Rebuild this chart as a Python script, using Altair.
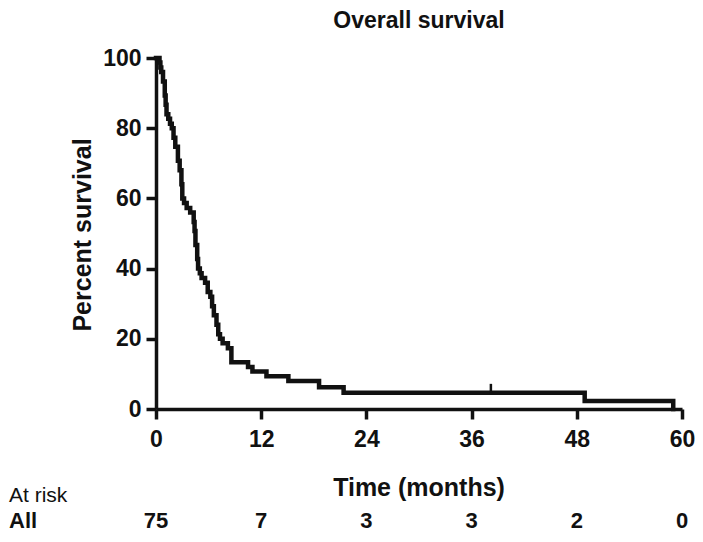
import altair as alt
import pandas as pd

# Kaplan-Meier step points (months, percent)
times = [0, 0.4, 0.5, 0.6, 0.8, 1.0, 1.1, 1.2, 1.4, 1.6, 1.8, 2.0, 2.2, 2.5, 2.7,
         2.9, 3.0, 3.2, 3.5, 3.9, 4.3, 4.4, 4.5, 4.7, 4.8, 5.0, 5.2, 5.6, 5.9,
         6.2, 6.4, 6.6, 6.9, 7.1, 7.3, 7.6, 8.2, 8.6, 10.5, 11.0, 12.6, 15.1,
         18.6, 21.4, 48.9, 59.0]
survival = [100, 98.7, 97.3, 96.0, 93.3, 89.3, 86.7, 84.0, 82.7, 81.3, 80.0, 77.3,
            74.7, 70.7, 68.0, 64.0, 60.0, 58.7, 57.3, 56.0, 53.3, 50.7, 46.7, 42.7,
            40.0, 38.7, 37.3, 36.0, 33.3, 32.0, 29.3, 26.7, 24.0, 21.3, 20.0, 18.7,
            17.3, 13.3, 12.0, 10.7, 9.3, 8.0, 6.2, 4.6, 2.3, 0.0]

censor_times = [38.2]
censor_values = [4.6]

risk_times = [0, 12, 24, 36, 48, 60]
risk_counts = ["75", "7", "3", "3", "2", "0"]

x_ticks = [0, 12, 24, 36, 48, 60]
y_ticks = [0, 20, 40, 60, 80, 100]

FONT = "Liberation Sans"
INK = "#111111"
W, H = 526, 351

curve_df = pd.DataFrame({"t": times, "s": survival})
censor_df = pd.DataFrame({"t": censor_times, "s": censor_values})
risk_df = pd.DataFrame({"t": risk_times, "n": risk_counts})

xscale = alt.Scale(domain=[0, 60], nice=False, zero=False)
yscale = alt.Scale(domain=[0, 100], nice=False)

curve = alt.Chart(curve_df).mark_line(
    interpolate="step-after", color=INK, strokeWidth=4.5, strokeJoin="miter",
    strokeCap="square"
).encode(
    x=alt.X("t:Q", scale=xscale, axis=alt.Axis(values=x_ticks, title=None, labelPadding=9)),
    y=alt.Y("s:Q", scale=yscale, axis=alt.Axis(values=y_ticks, title=None, labelPadding=5)),
)

censor = alt.Chart(censor_df).mark_tick(
    orient="vertical", color=INK, size=10, thickness=2.5, yOffset=-4, opacity=1
).encode(
    x=alt.X("t:Q", scale=xscale),
    y=alt.Y("s:Q", scale=yscale),
)

risk = alt.Chart(risk_df).mark_text(
    font=FONT, fontWeight="bold", fontSize=22, color=INK,
    align="center", baseline="middle"
).encode(
    x=alt.X("t:Q", scale=xscale),
    y=alt.value(463),
    text="n:N",
)

def label(txt, x, y, size, weight="bold", align="center", angle=0):
    kw = dict(font=FONT, fontSize=size, fontWeight=weight, color=INK,
              align=align, baseline="middle")
    if angle:
        kw["angle"] = angle
    return alt.Chart(pd.DataFrame({"v": [txt]})).mark_text(**kw).encode(
        x=alt.value(x), y=alt.value(y), text="v:N")

title = label("Overall survival", W / 2, -37, 23)
xtitle = label("Time (months)", W / 2, 430, 25)
ytitle = label("Percent survival", -73, 177, 25, angle=270)
atrisk = label("At risk", -147, 438, 21, weight="normal", align="left")
allrow = label("All", -147, 463, 22, align="left")

chart = alt.layer(curve, censor, risk, title, xtitle, ytitle, atrisk, allrow).properties(
    width=W, height=H,
    background="white",
    autosize=alt.AutoSizeParams(type="none"),
    padding={"left": 148, "top": 50, "right": 13, "bottom": 124},
).configure_view(
    strokeWidth=0, stroke="transparent"
).configure_axis(
    grid=False, domainColor=INK, domainWidth=3.5, tickColor=INK, tickWidth=3.5,
    tickSize=10, labelFont=FONT, labelFontWeight="bold", labelFontSize=23,
    labelColor=INK, labelFlush=False, labelOverlap=False
)

chart.save("out.html", embed_options={"renderer": "svg", "actions": False})
